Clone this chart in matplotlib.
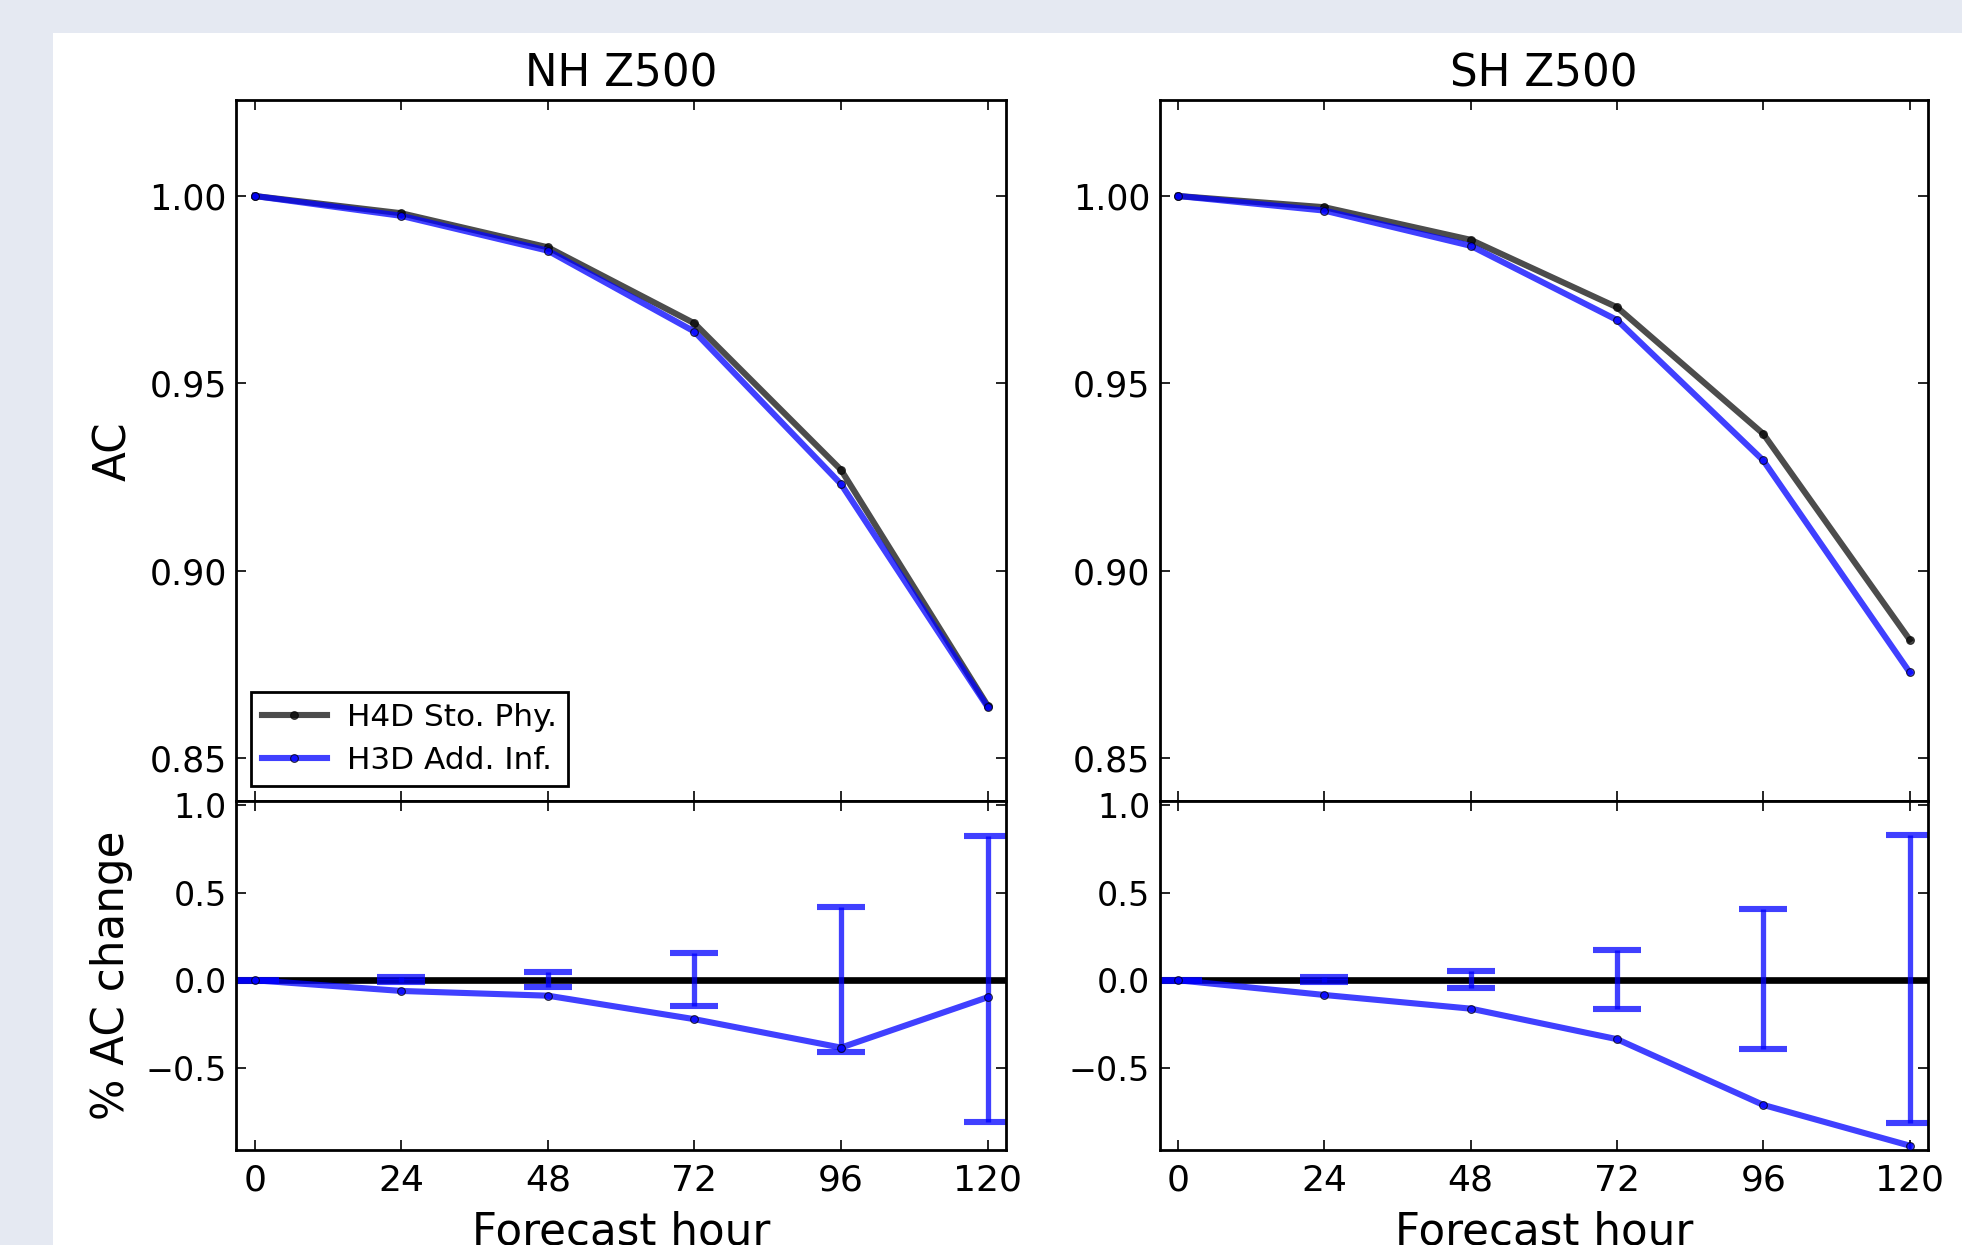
import numpy as np
import matplotlib
matplotlib.use('Agg')
import matplotlib.pyplot as plt
from matplotlib.patches import Rectangle
import matplotlib.ticker as ticker

hours = [0, 24, 48, 72, 96, 120]

# anomaly correlation, top panels
nh_h4d = [1.0000, 0.9954, 0.9863, 0.9660, 0.9269, 0.8640]
nh_h3d = [1.0000, 0.9947, 0.9854, 0.9638, 0.9231, 0.8636]
sh_h4d = [1.0000, 0.9970, 0.9883, 0.9703, 0.9365, 0.8816]
sh_h3d = [1.0000, 0.9961, 0.9867, 0.9669, 0.9294, 0.8729]

# % AC change and its error bars, bottom panels
nh_change = [0.0, -0.061, -0.088, -0.222, -0.384, -0.097]
nh_err_lo = [0.003, 0.012, 0.040, 0.145, 0.410, 0.810]
nh_err_hi = [0.003, 0.020, 0.046, 0.156, 0.418, 0.823]
sh_change = [0.0, -0.084, -0.162, -0.336, -0.711, -0.943]
sh_err_lo = [0.003, 0.012, 0.046, 0.164, 0.394, 0.815]
sh_err_hi = [0.003, 0.020, 0.055, 0.173, 0.408, 0.828]

titles = ['NH Z500', 'SH Z500']
labels = ['H4D Sto. Phy.', 'H3D Add. Inf.']

plt.rcParams['font.family'] = 'DejaVu Sans'

fig = plt.figure(figsize=(9.81, 6.225), dpi=200, facecolor='#e5e9f2')
fig.add_artist(Rectangle((53.0/1962, 0), 1.0, 1 - 33.0/1245, transform=fig.transFigure,
                         facecolor='white', edgecolor='none', zorder=0))

lefts = [0.1205, 0.5912]
widths = [0.3922, 0.3914]
top_data = [(nh_h4d, nh_h3d), (sh_h4d, sh_h3d)]
bot_data = [(nh_change, nh_err_lo, nh_err_hi), (sh_change, sh_err_lo, sh_err_hi)]

def style_axis(ax, ysize):
	for s in ax.spines.values():
		s.set_linewidth(1.0)
	ax.tick_params(which='both', direction='in', top=True, right=True, length=3.6, width=0.6, color='k')
	ax.tick_params(axis='x', labelsize=13, pad=5)
	ax.tick_params(axis='y', labelsize=ysize, pad=3.5)
	ax.set_xlim(-3, 123)
	ax.xaxis.set_major_locator(ticker.FixedLocator(hours))

for i in range(2):
	ax = fig.add_axes([lefts[i], 0.3566, widths[i], 0.5627])
	h4d, h3d = top_data[i]
	ax.plot(hours, h4d, color='k', alpha=0.7, lw=2.2, marker='o', ms=2.8, mfc='k', mec='k', mew=0.4, label=labels[0])
	ax.plot(hours, h3d, color='b', alpha=0.75, lw=2.2, marker='o', ms=2.8, mfc='b', mec='k', mew=0.4, label=labels[1])
	style_axis(ax, 12.5)
	ax.set_ylim(0.8385, 1.0255)
	ax.yaxis.set_major_locator(ticker.FixedLocator([0.85, 0.90, 0.95, 1.00]))
	ax.yaxis.set_major_formatter(ticker.FormatStrFormatter('%.2f'))
	ax.set_xticklabels([])
	ax.set_title(titles[i], fontsize=15.7, pad=5)
	if i == 0:
		ax.set_ylabel('AC', fontsize=15.7)
		ax.yaxis.set_label_coords(-0.131, 0.5)
		leg = ax.legend(loc='lower left', bbox_to_anchor=(0.0188, 0.0214), borderaxespad=0,
		                fontsize=11.2, fancybox=False, framealpha=1, edgecolor='k',
		                handlelength=2.1, handletextpad=0.65, labelspacing=0.45, borderpad=0.35)
		leg.get_frame().set_linewidth(1.0)

	bx = fig.add_axes([lefts[i], 0.0763, widths[i], 0.2803])
	change, lo, hi = bot_data[i]
	bx.axhline(0.0, color='k', lw=2.4, zorder=1)
	bx.errorbar(hours, [0.0] * len(hours), yerr=[lo, hi], fmt='none', ecolor='b', alpha=0.75,
	            elinewidth=1.9, capsize=8.6, capthick=2.2, zorder=2)
	bx.plot(hours, change, color='b', alpha=0.75, lw=2.2, marker='o', ms=2.8, mfc='b', mec='k', mew=0.4, zorder=3)
	style_axis(bx, 12)
	bx.set_ylim(-0.968, 1.022)
	bx.yaxis.set_major_locator(ticker.FixedLocator([-0.5, 0.0, 0.5, 1.0]))
	bx.yaxis.set_major_formatter(ticker.FuncFormatter(lambda v, p: ('%.1f' % v).replace('-', '\u2212')))
	bx.set_xlabel('Forecast hour', fontsize=15.7, labelpad=4.5)
	if i == 0:
		bx.set_ylabel('% AC change', fontsize=15.7)
		bx.yaxis.set_label_coords(-0.135, 0.5)

plt.savefig('out.png', dpi=200, facecolor=fig.get_facecolor())
